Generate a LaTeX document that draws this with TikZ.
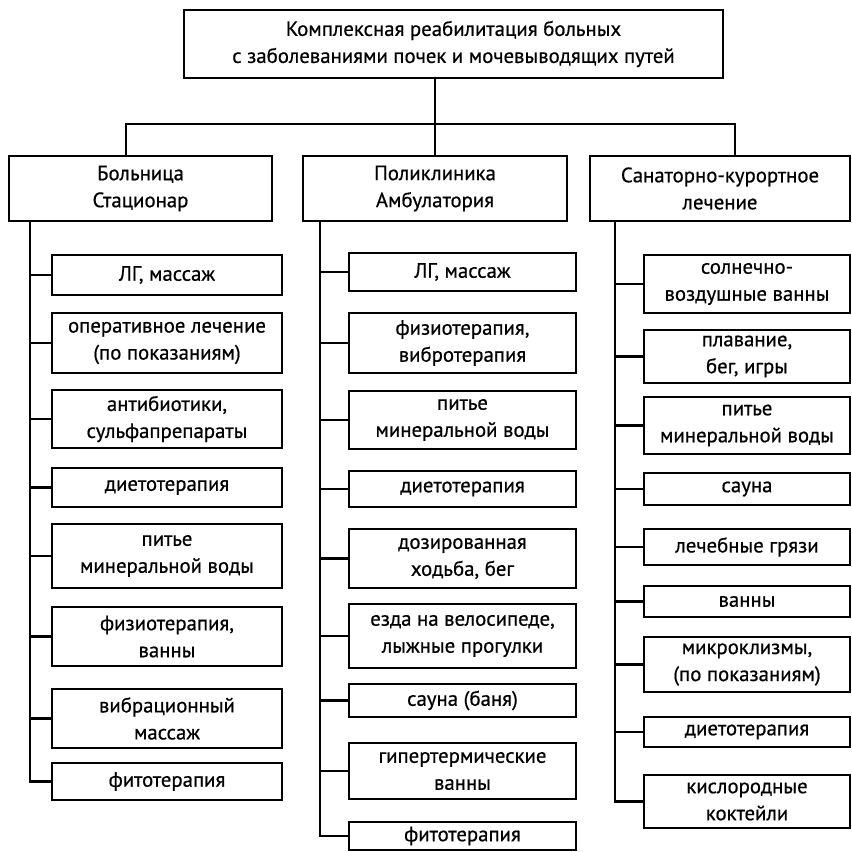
\documentclass[tikz,border=0pt]{standalone}
\usepackage{fontspec}
\setmainfont{PT Sans}[FakeBold=0.6]
\usetikzlibrary{positioning}
\usetikzlibrary{calc}
\tikzset{
  caja/.style={
    rectangle, draw=black, line width=1.4pt, fill=white,
    inner sep=0pt, align=center,
    font=\fontsize{10.4}{13.5}\selectfont
  },
  cajat/.style={caja, minimum width=269.5pt, minimum height=34pt},
  cajac/.style={caja, minimum height=32.5pt},
  cajaa/.style={caja, minimum width=115pt},
  cajab/.style={caja, minimum width=113.5pt},
  cajas/.style={caja, minimum width=103pt},
  enlace/.style={line width=1.4pt, draw=black}
}

\begin{document}
\begin{tikzpicture}[x=0.5pt, y=-0.5pt]
  \useasboundingbox (0,0) rectangle (852,852);
  \node[cajat] (top) at (453.5,44) {Комплексная реабилитация больных\\с заболеваниями почек и мочевыводящих путей};
  \node[cajac, minimum width=131.5pt] (c1) at (140.5,188.5) {Больница\\Стационар};
  \node[cajac, minimum width=132pt] (c2) at (435,188.5) {Поликлиника\\Амбулатория};
  \node[cajac, minimum width=130pt] (c3) at (720,188.5) {Санаторно-курортное\\лечение};
  \coordinate (j1) at (126,124);
  \coordinate (j3) at (735,124);
  \draw[enlace] (top.south -| c2.north) -- (c2.north);
  \draw[enlace] (c1.north -| j1) |- (j3) -- (c3.north -| j3);

  \node[cajaa, minimum height=20pt] (a1) at (167,275) {ЛГ, массаж};
  \node[cajaa, minimum height=30pt] (a2) at (167,343) {оперативное лечение\\(по показаниям)};
  \node[cajaa, minimum height=29pt] (a3) at (167,419) {антибиотики,\\сульфапрепараты};
  \node[cajaa, minimum height=19.5pt] (a4) at (167,487.5) {диетотерапия};
  \node[cajaa, minimum height=32pt] (a5) at (167,556) {питье\\минеральной воды};
  \node[cajaa, minimum height=29.5pt] (a6) at (167,636.5) {физиотерапия,\\ванны};
  \node[cajaa, minimum height=29.5pt] (a7) at (167,718.5) {вибрационный\\массаж};
  \node[cajaa, minimum height=18.5pt] (a8) at (167,781.5) {фитотерапия};

  \node[cajab, minimum height=19pt] (b1) at (462.5,272) {ЛГ, массаж};
  \node[cajab, minimum height=30pt] (b2) at (462.5,343) {физиотерапия,\\вибротерапия};
  \node[cajab, minimum height=29pt] (b3) at (462.5,420) {питье\\минеральной воды};
  \node[cajab, minimum height=18pt] (b4) at (462.5,489) {диетотерапия};
  \node[cajab, minimum height=29.5pt] (b5) at (462.5,558.5) {дозированная\\ходьба, бег};
  \node[cajab, minimum height=32pt] (b6) at (462.5,636) {езда на велосипеде,\\лыжные прогулки};
  \node[cajab, minimum height=16.5pt] (b7) at (462.5,700.5) {сауна (баня)};
  \node[cajab, minimum height=28pt] (b8) at (462.5,771) {гипертермические\\ванны};
  \node[cajab, minimum height=14pt] (b9) at (462.5,836) {фитотерапия};

  \node[cajas, minimum height=29pt] (s1) at (747,284) {солнечно-\\воздушные ванны};
  \node[cajas, minimum height=26.5pt] (s2) at (747,356.5) {плавание,\\бег, игры};
  \node[cajas, minimum height=28.5pt] (s3) at (747,425.5) {питье\\минеральной воды};
  \node[cajas, minimum height=16pt] (s4) at (747,489) {сауна};
  \node[cajas, minimum height=18pt] (s5) at (747,547) {лечебные грязи};
  \node[cajas, minimum height=15.5pt] (s6) at (747,601.5) {ванны};
  \node[cajas, minimum height=27.5pt] (s7) at (747,664.5) {микроклизмы,\\(по показаниям)};
  \node[cajas, minimum height=15pt] (s8) at (747,732) {диетотерапия};
  \node[cajas, minimum height=26.5pt] (s9) at (747,801.5) {кислородные\\коктейли};

  \coordinate (t1) at (c1.south -| 30,0);
  \coordinate (t2) at (c2.south -| 320,0);
  \coordinate (t3) at (c3.south -| 615,0);
  \foreach \i in {1,...,8} \draw[enlace] (t1) |- (a\i.west);
  \foreach \i in {1,...,9} \draw[enlace] (t2) |- (b\i.west);
  \foreach \i in {1,...,9} \draw[enlace] (t3) |- (s\i.west);
\end{tikzpicture}
\end{document}
